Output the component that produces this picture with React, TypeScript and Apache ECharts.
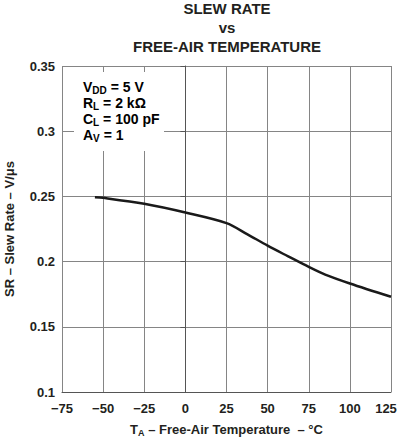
import React, { useEffect, useRef } from "react";
import * as echarts from "echarts";

const temperatures = [-55, -50, -25, 0, 25, 37.5, 50, 62.5, 75, 85, 100, 125];
const slewRates = [0.2494, 0.2489, 0.2443, 0.2376, 0.2295, 0.2211, 0.2122, 0.204, 0.1959, 0.19, 0.1832, 0.173];
const titleLines = ["SLEW RATE", "vs", "FREE-AIR TEMPERATURE"];
const conditionLines = [
  "{b|V}{s|DD}{b| = 5 V}",
  "{b|R}{s|L}{b| = 2 kΩ}",
  "{b|C}{s|L}{b| = 100 pF}",
  "{b|A}{s|V}{b| = 1}",
];

const FONT = "'Liberation Sans', Arial, Helvetica, sans-serif";
const INK = "#231f20";
const GRID = "#858585";

export default function App() {
  const ref = useRef<HTMLDivElement>(null);
  useEffect(() => {
    if (!ref.current) return;
    const chart = echarts.init(ref.current, undefined, { renderer: "svg" });
    const rich = {
      b: { fontFamily: FONT, fontWeight: "bold", fontSize: 13, color: INK, lineHeight: 16, verticalAlign: "middle" },
      s: { fontFamily: FONT, fontWeight: "bold", fontSize: 9, color: INK, lineHeight: 9, verticalAlign: "bottom" },
    };
    const boxRich = {
      b: { fontFamily: FONT, fontWeight: "bold", fontSize: 14, color: INK, lineHeight: 16, verticalAlign: "middle" },
      s: { fontFamily: FONT, fontWeight: "bold", fontSize: 10, color: INK, lineHeight: 10, verticalAlign: "bottom" },
    };
    const tickFont = { fontFamily: FONT, fontWeight: "bold", fontSize: 13, color: INK };
    chart.setOption({
      animation: false,
      backgroundColor: "#ffffff",
      title: {
        text: titleLines.join("\n"),
        left: 227,
        top: -1,
        padding: 0,
        textAlign: "center",
        textStyle: { fontFamily: FONT, fontWeight: "bold", fontSize: 15, color: INK, lineHeight: 19 },
      },
      grid: { left: 62, right: 8, top: 66, bottom: 46, outerBoundsMode: "none", containLabel: false },
      xAxis: {
        type: "value",
        min: -75,
        max: 125,
        interval: 25,
        name: "{b|T}{s|A}{b| – Free-Air Temperature  – °C}",
        nameLocation: "middle",
        nameGap: 29,
        nameTextStyle: { rich },
        axisLine: { show: true, lineStyle: { color: "#555", width: 1 } },
        axisTick: { show: false },
        axisLabel: {
          margin: 10,
          ...tickFont,
          rich: { t: { ...tickFont }, r: { ...tickFont, padding: [0, 10, 0, 0] } },
          formatter: (v: number) =>
            v === 125 ? "{r|125}" : "{t|" + (v < 0 ? "\u2212" + Math.abs(v) : String(v)) + "}",
        },
        splitLine: { show: true, lineStyle: { color: GRID, width: 1 } },
      },
      yAxis: {
        type: "value",
        min: 0.1,
        max: 0.35,
        interval: 0.05,
        name: "SR – Slew Rate – V/μs",
        nameLocation: "middle",
        nameGap: 46,
        nameTextStyle: { fontFamily: FONT, fontWeight: "bold", fontSize: 13, color: INK },
        axisLine: { show: true, lineStyle: { color: "#555", width: 1 } },
        axisTick: { show: true, inside: false, length: 5, lineStyle: { color: "#555" } },
        axisLabel: {
          margin: 7,
          ...tickFont,
          formatter: (v: number) => String(parseFloat(v.toFixed(2))),
        },
        splitLine: { show: true, lineStyle: { color: GRID, width: 1 } },
      },
      graphic: [
        { type: "rect", z: 10, shape: { x: 74, y: 72, width: 90, height: 79 }, style: { fill: "#ffffff" } },
        {
          type: "text",
          z: 11,
          x: 83,
          y: 79,
          style: { text: conditionLines.join("\n"), rich: boxRich },
        },
      ],
      series: [
        {
          type: "line",
          data: temperatures.map((t, i) => [t, slewRates[i]]),
          smooth: 0.3,
          showSymbol: false,
          lineStyle: { color: "#1a1a1a", width: 2.5 },
          z: 5,
        },
      ],
    });
    return () => chart.dispose();
  }, []);
  return <div ref={ref} style={{ position: "fixed", left: 0, top: 0, width: 399, height: 438 }} />;
}
